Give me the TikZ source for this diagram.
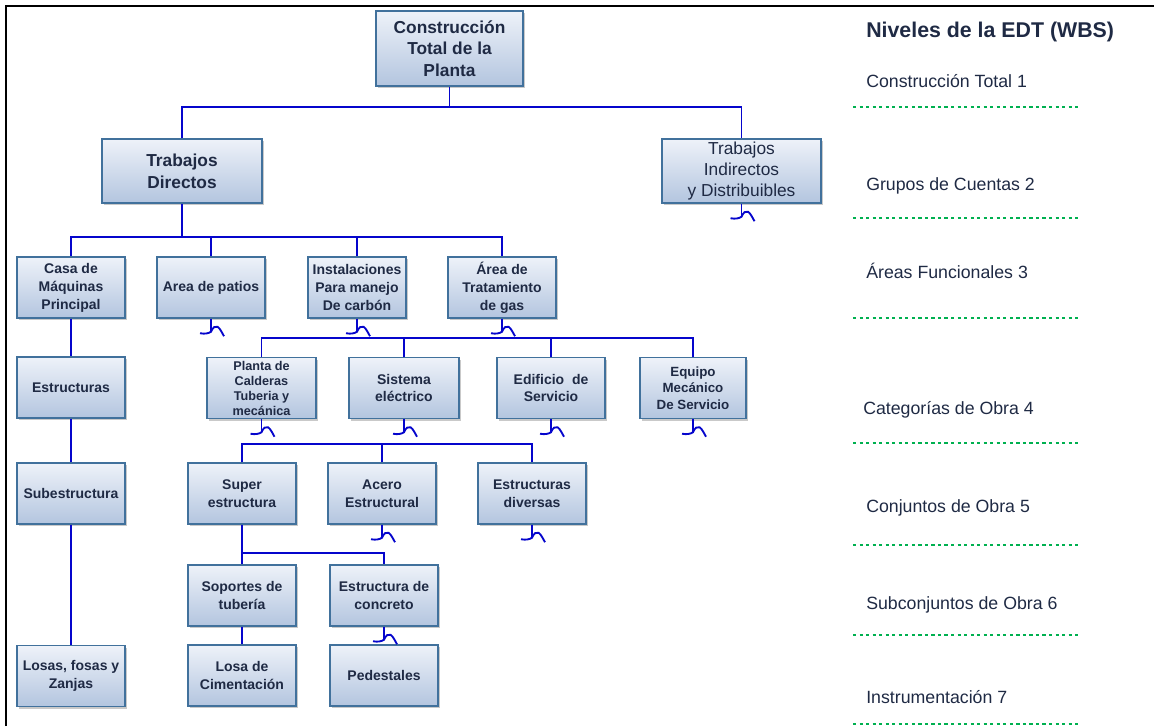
\documentclass[tikz,border=0pt]{standalone}
\usepackage{fontspec}
\setmainfont{Liberation Sans}
\usetikzlibrary{shadows}
\definecolor{boxtop}{HTML}{EEF2F9}
\definecolor{boxbot}{HTML}{B3C5DF}
\definecolor{boxedge}{HTML}{41719C}
\definecolor{txt}{HTML}{1F2A44}
\definecolor{connblue}{HTML}{0505CC}
\definecolor{dotgreen}{HTML}{00B050}
\tikzset{
  wbs/.style={draw=boxedge, line width=1.1pt, top color=boxtop, bottom color=boxbot,
    text=txt, align=center, inner sep=1pt,
    font=\bfseries\fontsize{10.5}{13.5}\selectfont,
    drop shadow={shadow xshift=1.8pt, shadow yshift=-1.8pt, opacity=0.3, fill=black!70}},
  sz/.style 2 args={minimum width=#1*0.75pt, minimum height=#2*0.75pt},
  conn/.style={draw=connblue, line width=1.4pt},
  lvl/.style={anchor=west, inner sep=0pt, text=txt, font=\fontsize{13.3}{15}\selectfont},
  dotline/.style={draw=dotgreen, line width=2.2pt, dash pattern=on 2.4pt off 2.5pt},
}
\newcommand{\squigle}[1]{%
  \draw[conn] (#1.south) -- ++(0,13) coordinate (sq);
  \draw[conn] ([shift={(-11,1.5)}]sq) .. controls ([shift={(-6,2.5)}]sq) and ([shift={(-2,1.5)}]sq) .. (sq)
     .. controls ([shift={(2,-4.5)}]sq) and ([shift={(4,-6)}]sq) .. ([shift={(6.5,-5)}]sq)
     .. controls ([shift={(9,-3.5)}]sq) and ([shift={(11,1)}]sq) .. ([shift={(13,4.5)}]sq);}
\begin{document}
\begin{tikzpicture}[x=0.75pt, y=-0.75pt]
\useasboundingbox (0,0) rectangle (1154,726);
% frame
\draw[line width=2.2pt] (6,726) -- (6,6) -- (1154,6);

% level 1-2
\node[wbs, sz={147}{75}, font=\bfseries\fontsize{13}{16}\selectfont] (top) at (449.5,48.5) {Construcción\\Total de la\\Planta};
\node[wbs, sz={160}{64}, font=\bfseries\fontsize{13}{16.5}\selectfont] (td) at (182,171) {Trabajos\\Directos};
\node[wbs, sz={159}{64}, font=\fontsize{13}{16}\selectfont] (ti) at (741.5,171) {Trabajos\\Indirectos\\y Distribuibles};

% level 3
\node[wbs, sz={108}{61}] (casa) at (71,287.5) {Casa de\\Máquinas\\Principal};
\node[wbs, sz={108}{61}] (patios) at (211,287.5) {Area de patios};
\node[wbs, sz={98}{61}] (inst) at (357,287.5) {Instalaciones\\Para manejo\\De carbón};
\node[wbs, sz={108}{61}] (area) at (502,287.5) {Área de\\Tratamiento\\de gas};

% level 4
\node[wbs, sz={108}{61}] (estr) at (71,387.5) {Estructuras};
\node[wbs, sz={109}{61}, font=\bfseries\fontsize{9.5}{11.25}\selectfont] (planta) at (261.5,388) {Planta de\\Calderas\\Tuberia y\\mecánica};
\node[wbs, sz={110}{61}, font=\bfseries\fontsize{10.5}{12.5}\selectfont] (sist) at (404,388) {Sistema\\eléctrico};
\node[wbs, sz={108}{61}, font=\bfseries\fontsize{10.5}{12.5}\selectfont] (edif) at (551,388) {Edificio\ \ de\\Servicio};
\node[wbs, sz={106}{61}, font=\bfseries\fontsize{10}{12.5}\selectfont] (equipo) at (693,388) {Equipo\\Mecánico\\De Servicio};

% level 5
\node[wbs, sz={108}{61}] (subes) at (71,493.5) {Subestructura};
\node[wbs, sz={108}{61}] (super) at (242,493.5) {Super\\estructura};
\node[wbs, sz={108}{61}] (acero) at (382,493.5) {Acero\\Estructural};
\node[wbs, sz={108}{61}] (diver) at (532,493.5) {Estructuras\\diversas};

% level 6
\node[wbs, sz={108}{61}] (sopor) at (242,595.5) {Soportes de\\tubería};
\node[wbs, sz={108}{61}] (concr) at (384,595.5) {Estructura de\\concreto};

% level 7
\node[wbs, sz={108}{61}] (losas) at (71,676) {Losas, fosas y\\Zanjas};
\node[wbs, sz={108}{61}] (losa) at (242,675.5) {Losa de\\Cimentación};
\node[wbs, sz={108}{61}] (pedes) at (384,675.5) {Pedestales};

% bus coordinates
\coordinate (b1) at (0,107);
\coordinate (b2) at (0,237);
\coordinate (b4) at (0,338);
\coordinate (b5) at (0,444);
\coordinate (b6) at (0,553);

% connectors
\draw[conn] (top.south) -- (top.south |- b1);
\draw[conn] (td.north) -- (td.north |- b1) -- (ti.north |- b1) -- (ti.north);

\draw[conn] (td.south) -- (td.south |- b2);
\draw[conn] (casa.north) -- (casa.north |- b2) -- (area.north |- b2) -- (area.north);
\draw[conn] (patios.north) -- (patios.north |- b2);
\draw[conn] (inst.north) -- (inst.north |- b2);

\draw[conn] (planta.north) -- (planta.north |- b4) -- (equipo.north |- b4) -- (equipo.north);
\draw[conn] (sist.north) -- (sist.north |- b4);
\draw[conn] (edif.north) -- (edif.north |- b4);

\draw[conn] (super.north) -- (super.north |- b5) -- (diver.north |- b5) -- (diver.north);
\draw[conn] (acero.north) -- (acero.north |- b5);

\draw[conn] (casa.south) -- (estr.north);
\draw[conn] (estr.south) -- (subes.north);
\draw[conn] (subes.south) -- (losas.north);

\draw[conn] (super.south) -- (sopor.north);
\draw[conn] (super.south |- b6) -- (concr.north |- b6) -- (concr.north);
\draw[conn] (sopor.south) -- (losa.north);

% squiggles
\squigle{ti}
\squigle{patios}
\squigle{inst}
\squigle{area}
\squigle{planta}
\squigle{sist}
\squigle{edif}
\squigle{equipo}
\squigle{acero}
\squigle{diver}
\squigle{concr}

% right column
\node[anchor=west, inner sep=0pt, text=txt, font=\bfseries\fontsize{16}{18}\selectfont] (title) at (866,32) {Niveles de la EDT (WBS)};
\node[lvl] (l1) at (866,81) {Construcción Total 1};
\node[lvl] (l2) at (866,186) {Grupos de Cuentas 2};
\node[lvl] (l3) at (866,271) {Áreas Funcionales 3};
\node[lvl] (l4) at (863,410) {Categorías de Obra 4};
\node[lvl] (l5) at (866,508) {Conjuntos de Obra 5};
\node[lvl] (l6) at (866,605) {Subconjuntos de Obra 6};
\node[lvl] (l7) at (866,697) {Instrumentación 7};

\foreach \yy in {107,218,318,443,545,635,724}
  \draw[dotline] (853,\yy) -- (1080,\yy);
\end{tikzpicture}
\end{document}
